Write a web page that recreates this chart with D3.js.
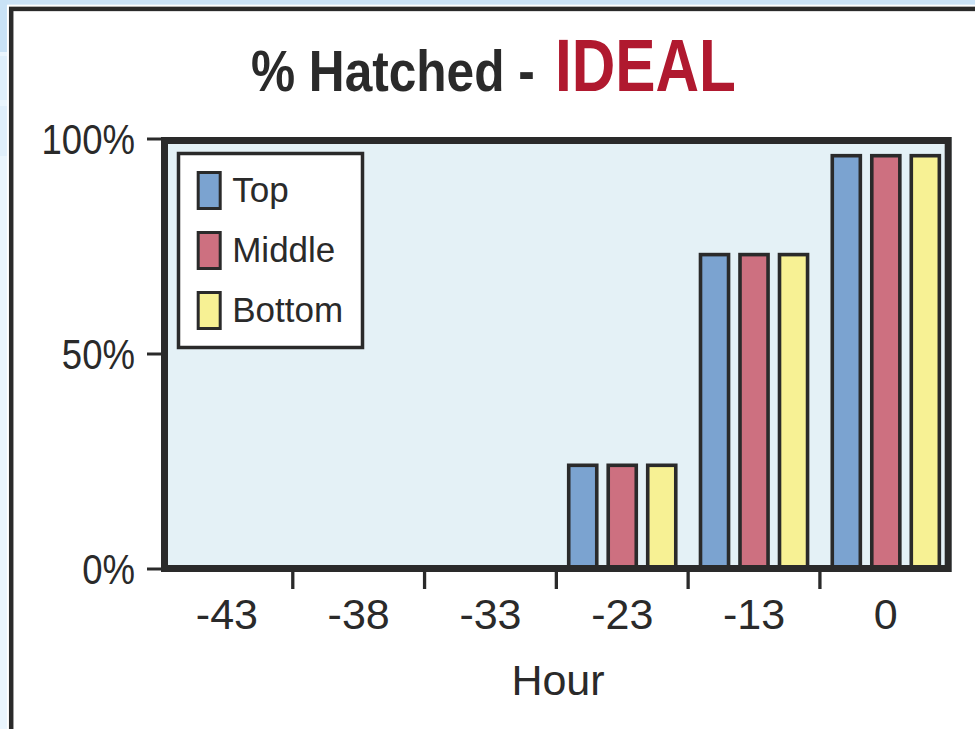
<!DOCTYPE html>
<html>
<head>
<meta charset="utf-8">
<script src="https://cdn.jsdelivr.net/npm/d3@7"></script>
<style>
  html, body { margin: 0; padding: 0; }
  body { width: 975px; height: 729px; overflow: hidden; background: #eaf5fd; }
  svg { display: block; }
</style>
</head>
<body>
<svg id="chart" width="975" height="729"></svg>
<script>
// Hours before hatch and percentage hatched per tray position
const hours = ["-43", "-38", "-33", "-23", "-13", "0"];
const seriesNames = ["Top", "Middle", "Bottom"];
const topValues = [0, 0, 0, 24, 73, 96];
const middleValues = [0, 0, 0, 24, 73, 96];
const bottomValues = [0, 0, 0, 24, 73, 96];
const yTickValues = [0, 50, 100];

const seriesColors = ["#7ba3d0", "#cd7080", "#f7f194"];
const ink = "#2a2a2a";
const sansFont = "'Liberation Sans', sans-serif";

const rows = hours.map((h, i) => ({
  hour: h,
  values: [topValues[i], middleValues[i], bottomValues[i]]
}));

const svg = d3.select("#chart");

// page backdrop
svg.append("rect").attr("x", 0).attr("y", 0).attr("width", 975).attr("height", 7).attr("fill", "#cbe3f7");
svg.append("rect").attr("x", 0).attr("y", 0).attr("width", 8).attr("height", 52).attr("fill", "#c9e2f6");
svg.append("rect").attr("x", 0).attr("y", 56).attr("width", 8).attr("height", 44).attr("fill", "#dfeffb");
svg.append("rect").attr("x", 0).attr("y", 106).attr("width", 8).attr("height", 50).attr("fill", "#e0effb");

// card
svg.append("rect")
  .attr("x", 11.2).attr("y", 8.9)
  .attr("width", 1000).attr("height", 800)
  .attr("fill", "#ffffff")
  .attr("stroke", "#ffffff").attr("stroke-width", 8.5);
svg.append("rect")
  .attr("x", 11.2).attr("y", 8.9)
  .attr("width", 1000).attr("height", 800)
  .attr("fill", "#ffffff")
  .attr("stroke", ink).attr("stroke-width", 4.5);

// title, set in a condensed width
svg.append("text")
  .attr("transform", "translate(251,90.5) scale(0.87,1)")
  .attr("font-family", sansFont)
  .attr("font-weight", "bold")
  .attr("font-size", 57)
  .attr("fill", ink)
  .text("% Hatched -");
svg.append("text")
  .attr("transform", "translate(555,90.5) scale(0.815,1)")
  .attr("font-family", sansFont)
  .attr("font-weight", "bold")
  .attr("font-size", 74)
  .attr("fill", "#b0192f")
  .text("IDEAL");

// scales
const x0 = d3.scaleBand().domain(hours).range([161, 951.7]).paddingInner(0).paddingOuter(0);
const x1 = d3.scaleBand().domain(seriesNames).range([0, x0.bandwidth()])
  .paddingInner(0.29).paddingOuter(0.313);
const y = d3.scaleLinear().domain([0, 100]).range([568.5, 138.5]);

const plotLeft = x0.range()[0];
const plotRight = x0.range()[1];
const frameW = 7;

// plot background
svg.append("rect")
  .attr("x", plotLeft).attr("y", y(100) - 1.5)
  .attr("width", plotRight - plotLeft).attr("height", y(0) + 3.5 - (y(100) - 1.5))
  .attr("fill", "#e4f1f6");

// bars
const groups = svg.append("g").selectAll("g")
  .data(rows)
  .join("g")
  .attr("transform", d => `translate(${x0(d.hour)},0)`);

groups.selectAll("rect")
  .data(d => d.values.map((v, k) => ({ name: seriesNames[k], value: v, k })))
  .join("rect")
  .filter(d => d.value > 0)
  .attr("x", d => x1(d.name))
  .attr("y", d => y(d.value))
  .attr("width", x1.bandwidth())
  .attr("height", d => y(0) - y(d.value))
  .attr("fill", d => seriesColors[d.k])
  .attr("stroke", ink)
  .attr("stroke-width", 3.6);

// plot frame
svg.append("rect")
  .attr("x", plotLeft + frameW / 2).attr("y", y(100) + 2)
  .attr("width", plotRight - plotLeft - frameW)
  .attr("height", y(0) - (y(100) + 2))
  .attr("fill", "none")
  .attr("stroke", ink)
  .attr("stroke-width", frameW);

// y axis
const yAxis = svg.append("g")
  .attr("transform", `translate(${plotLeft + 2},0)`)
  .call(d3.axisLeft(y).tickValues(yTickValues).tickFormat(d => d + "%").tickSize(16).tickPadding(10));
yAxis.select(".domain").remove();
yAxis.selectAll(".tick line").attr("stroke", ink).attr("stroke-width", 3);
yAxis.selectAll(".tick text")
  .attr("x", 0)
  .attr("transform", "translate(-28,0) scale(0.85,1)")
  .attr("font-family", sansFont)
  .attr("font-size", 43)
  .attr("fill", ink)
  .attr("dy", "0.36em");

// x axis: labels at band centres, ticks at band boundaries
const xAxis = svg.append("g")
  .attr("transform", `translate(0,${y(0) + 3.5})`)
  .call(d3.axisBottom(x0).tickSize(0).tickPadding(26));
xAxis.select(".domain").remove();
xAxis.selectAll(".tick text")
  .attr("font-family", sansFont)
  .attr("font-size", 43)
  .attr("fill", ink);

svg.append("g").selectAll("line")
  .data(hours.slice(1))
  .join("line")
  .attr("x1", d => x0(d)).attr("x2", d => x0(d))
  .attr("y1", y(0) + 3.5).attr("y2", y(0) + 20.5)
  .attr("stroke", ink).attr("stroke-width", 3.3);

svg.append("text")
  .attr("x", 558).attr("y", 695)
  .attr("text-anchor", "middle")
  .attr("font-family", sansFont)
  .attr("font-size", 43)
  .attr("fill", ink)
  .text("Hour");

// legend
const legend = svg.append("g");
legend.append("rect")
  .attr("x", 178.5).attr("y", 153.5)
  .attr("width", 184).attr("height", 194)
  .attr("fill", "#ffffff")
  .attr("stroke", ink).attr("stroke-width", 3.5);

const legendItems = legend.selectAll("g.item")
  .data(seriesNames)
  .join("g")
  .attr("class", "item")
  .attr("transform", (d, i) => `translate(198.2,${172.5 + i * 60})`);
legendItems.append("rect")
  .attr("width", 22).attr("height", 36)
  .attr("fill", (d, i) => seriesColors[i])
  .attr("stroke", ink).attr("stroke-width", 3);
legendItems.append("text")
  .attr("x", 34).attr("y", 17)
  .attr("dy", "0.35em")
  .attr("font-family", sansFont)
  .attr("font-size", 35)
  .attr("fill", ink)
  .text(d => d);
</script>
</body>
</html>
